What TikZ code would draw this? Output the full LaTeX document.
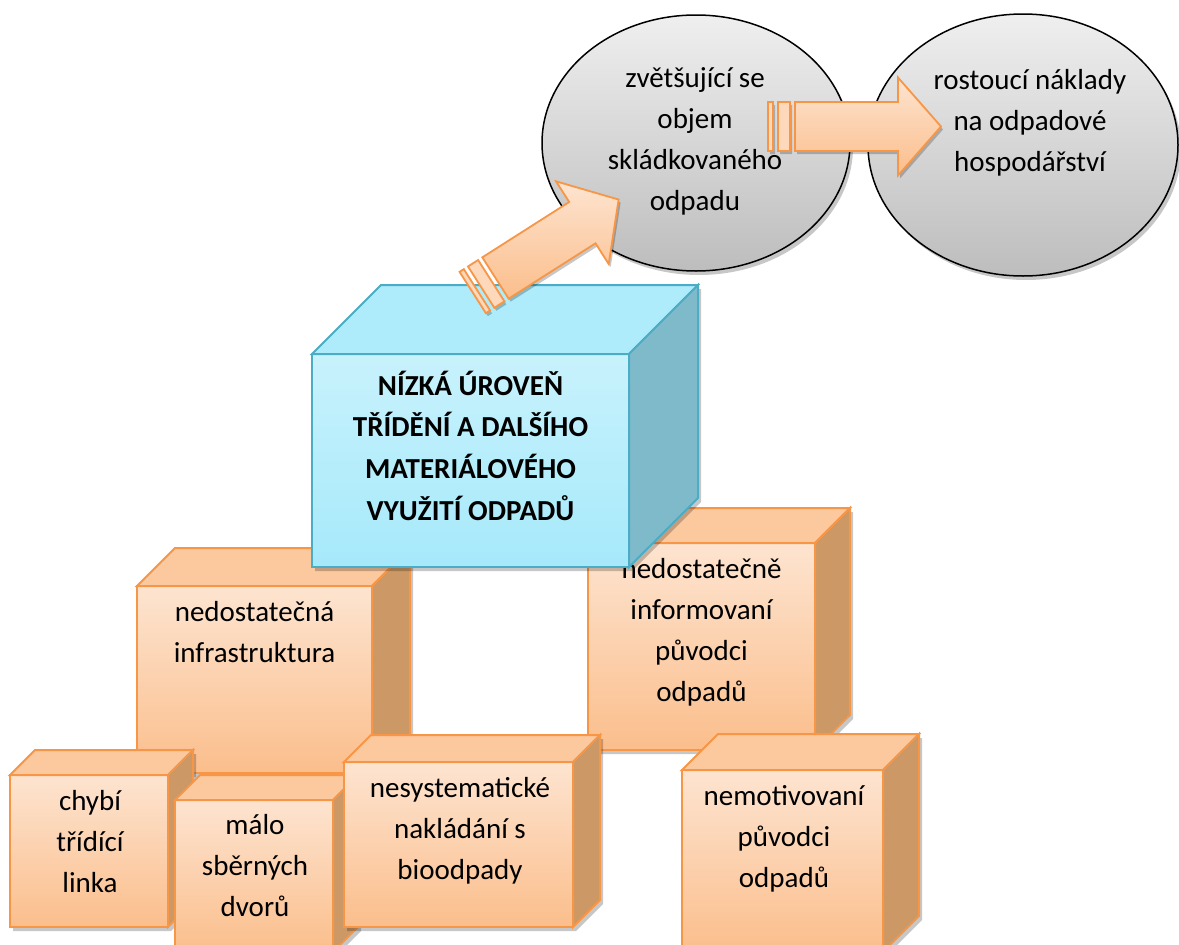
\documentclass[tikz,border=0pt]{standalone}
\usepackage{fontspec}
\setmainfont{Carlito}
\definecolor{orline}{HTML}{F79646}
\definecolor{orfrontT}{HTML}{FDE4D0}
\definecolor{orfrontB}{HTML}{FBBE8C}
\definecolor{ortopc}{HTML}{FCC89E}
\definecolor{orsidec}{HTML}{CC9966}
\definecolor{orbar}{HTML}{FDD8BA}
\definecolor{blline}{HTML}{4BACC6}
\definecolor{blfrontT}{HTML}{C8F2FC}
\definecolor{blfrontB}{HTML}{A6E9FB}
\definecolor{bltopc}{HTML}{AEEBFB}
\definecolor{blsidec}{HTML}{7FBACB}
\definecolor{grT}{HTML}{EFEFEF}
\definecolor{grB}{HTML}{BDBDBD}
\tikzset{
  orfront/.style={draw=orline,line width=2pt,top color=orfrontT,bottom color=orfrontB},
  ortop/.style={draw=orline,line width=2pt,fill=ortopc},
  orside/.style={draw=orline,line width=2pt,fill=orsidec},
  blfront/.style={draw=blline,line width=2pt,top color=blfrontT,bottom color=blfrontB},
  bltop/.style={draw=blline,line width=2pt,fill=bltopc},
  blside/.style={draw=blline,line width=2pt,fill=blsidec},
  shadowc/.style={fill=black,opacity=0.22},
  ellst/.style={draw=black,line width=1.5pt,top color=grT,bottom color=grB},
  arrbody/.style={draw=orline,line width=1.8pt,top color=orfrontT,bottom color=orfrontB},
  arrbar/.style={draw=orline,line width=1.8pt,fill=orbar},
  lbl/.style={align=center,inner sep=0pt,font=\fontsize{29}{41}\selectfont,text=black},
  ttl/.style={align=center,inner sep=0pt,font=\fontsize{29}{41.7}\selectfont\bfseries,text=black}
}
% #1 style prefix, #2 left, #3 top, #4 right, #5 bottom, #6 depth
\newcommand\mkcube[6]{%
  \fill[shadowc] ({#2+3},{#3+4}) -- ({#2+#6+3},{#3-#6+4}) -- ({#4+#6+3},{#3-#6+4}) -- ({#4+#6+3},{#5-#6+4}) -- ({#4+3},{#5+4}) -- ({#2+3},{#5+4}) -- cycle;
  \path[#1front] (#2,#3) rectangle (#4,#5);
  \path[#1top] (#2,#3) -- ({#2+#6},{#3-#6}) -- ({#4+#6},{#3-#6}) -- (#4,#3) -- cycle;
  \path[#1side] (#4,#3) -- ({#4+#6},{#3-#6}) -- ({#4+#6},{#5-#6}) -- (#4,#5) -- cycle;
}
% #1 x, #2 y of shaft tail, #3 angle
\newcommand\mkarrow[3]{%
  \begin{scope}[shift={({#1+2},{#2+3})},rotate=#3]
    \fill[shadowc] (-27,-24.5) rectangle (-22,24.5) (-17,-24.5) rectangle (-5,24.5)
      (0,-24.5) -- (103,-24.5) -- (103,-49) -- (146,0) -- (103,49) -- (103,24.5) -- (0,24.5) -- cycle;
  \end{scope}
  \begin{scope}[shift={(#1,#2)},rotate=#3]
    \path[arrbody] (0,-24.5) -- (103,-24.5) -- (103,-49) -- (146,0) -- (103,49) -- (103,24.5) -- (0,24.5) -- cycle;
    \path[arrbar] (-17,-24.5) rectangle (-5,24.5);
    \path[arrbar] (-27,-24.5) rectangle (-22,24.5);
  \end{scope}
}
\begin{document}
\begin{tikzpicture}[x=1pt,y=-1pt]
\useasboundingbox (0,0) rectangle (1179,945);
\clip (0,0) rectangle (1179,945);
\fill[white] (0,0) rectangle (1179,945);
% ellipses
\fill[shadowc] (699,147) ellipse [x radius=154pt,y radius=128pt];
\path[ellst] (696,143) ellipse [x radius=154pt,y radius=128pt];
\fill[shadowc] (1026,149) ellipse [x radius=155pt,y radius=131pt];
\path[ellst] (1023,145) ellipse [x radius=155pt,y radius=131pt];
\node[lbl] (t1) at (695,141) {zvětšující se\\objem\\skládkovaného\\odpadu};
\node[lbl] (t2) at (1030,123) {rostoucí náklady\\na odpadové\\hospodářství};
% horizontal arrow
\mkarrow{795}{126.5}{0}
% back cubes
\mkcube{or}{137}{586}{372}{773}{38}
\node[lbl] (t3) at (254.5,632) {nedostatečná\\infrastruktura};
\mkcube{or}{588}{543}{815}{750}{35}
\node[lbl] (t4) at (701.5,632) {nedostatečně\\informovaní\\původci\\odpadů};
% main cube
\mkcube{bl}{312}{354}{629}{567}{69}
\node[ttl] (t0) at (470.5,445.5) {NÍZKÁ ÚROVEŇ\\TŘÍDĚNÍ A DALŠÍHO\\MATERIÁLOVÉHO\\VYUŽITÍ ODPADŮ};
% diagonal arrow
\mkarrow{495.5}{278}{32.5}
% front cubes
\mkcube{or}{10}{775}{168}{927}{25}
\node[lbl] (t5) at (90,842) {chybí\\třídící\\linka};
\mkcube{or}{175}{800}{333}{952}{25}
\node[lbl] (t6) at (255,866) {málo\\sběrných\\dvorů};
\mkcube{or}{344}{762}{573}{927}{27}
\node[lbl] (t7) at (460,831) {nesystematické\\nakládání s\\bioodpady};
\mkcube{or}{682}{770}{883}{952}{36}
\node[lbl] (t8) at (784,839) {nemotivovaní\\původci\\odpadů};
\end{tikzpicture}
\end{document}
